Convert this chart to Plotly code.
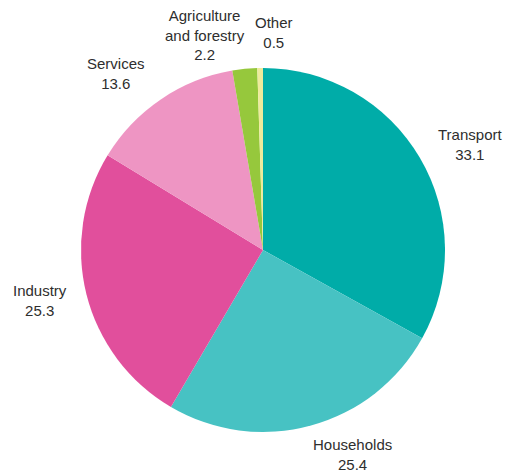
import math
import plotly.graph_objects as go

# Final energy consumption by sector (%)
sectors = ["Transport", "Households", "Industry", "Services", "Agriculture and forestry", "Other"]
label_text = ["Transport", "Households", "Industry", "Services", "Agriculture<br>and forestry", "Other"]
shares = [33.1, 25.4, 25.3, 13.6, 2.2, 0.5]
colors = ["#00aca8", "#47c2c3", "#e14f9c", "#ee95c3", "#96c83c", "#eeeb9c"]

W, H = 508, 474
CX, CY, R = 263, 250, 182  # pie centre and radius in pixels

fig = go.Figure(go.Pie(
    labels=sectors,
    values=shares,
    sort=False,
    direction="clockwise",
    rotation=0,
    marker=dict(colors=colors, line=dict(width=0)),
    textinfo="none",
    hoverinfo="label+value",
    showlegend=False,
    domain=dict(x=[(CX - R) / W, (CX + R) / W],
                y=[(H - CY - R) / H, (H - CY + R) / H]),
))

# label offsets (pixels) from the radial anchor point
nudges = [(13, 9), (30, -13), (-4, -5), (-20, 10), (-35, 10), (15, 8)]
total = sum(shares)
cum = 0.0
annotations = []
for name, v, (dx, dy) in zip(label_text, shares, nudges):
    mid = (cum + v / 2) / total * 2 * math.pi
    cum += v
    px = CX + 1.24 * R * math.sin(mid) + dx
    py = CY - 1.24 * R * math.cos(mid) + dy
    annotations.append(dict(
        x=px / W, y=1 - py / H, xref="paper", yref="paper",
        text=f"{name}<br>{v}", showarrow=False,
        xanchor="center", yanchor="middle", align="center",
        font=dict(family="Liberation Sans, Arial, sans-serif", size=15, color="#2e2e2e"),
    ))

fig.update_layout(
    width=W, height=H,
    margin=dict(l=0, r=0, t=0, b=0),
    paper_bgcolor="white",
    plot_bgcolor="white",
    annotations=annotations,
)

fig.write_html("out.html")
